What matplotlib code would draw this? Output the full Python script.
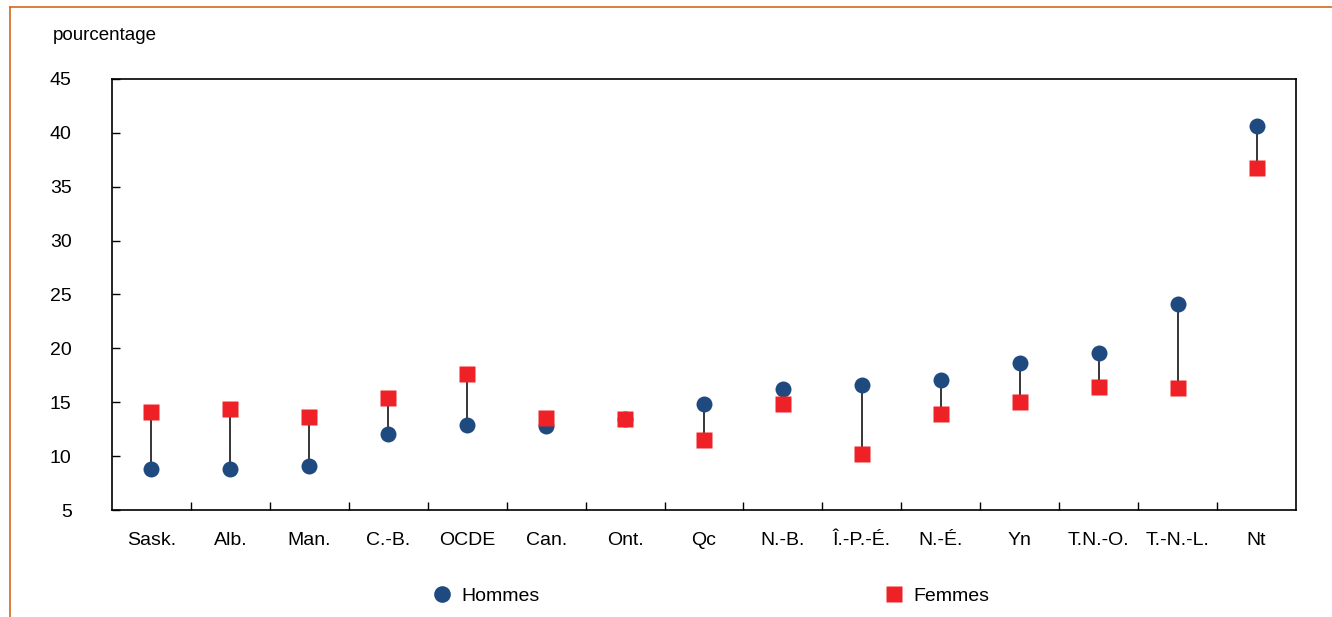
import matplotlib.pyplot as plt
from matplotlib.lines import Line2D
import numpy as np

plt.rcParams['font.family'] = ['Liberation Sans Narrow', 'Liberation Sans', 'DejaVu Sans']

regions = ["Sask.", "Alb.", "Man.", "C.-B.", "OCDE", "Can.", "Ont.", "Qc",
           "N.-B.", "Î.-P.-É.", "N.-É.", "Yn", "T.N.-O.", "T.-N.-L.", "Nt"]
hommes = [8.8, 8.8, 9.1, 12.1, 12.9, 12.8, 13.4, 14.8, 16.2, 16.6, 17.1, 18.6, 19.6, 24.1, 40.6]
femmes = [14.1, 14.4, 13.6, 15.4, 17.6, 13.5, 13.4, 11.5, 14.8, 10.2, 13.9, 15.0, 16.4, 16.3, 36.7]

navy = "#1f4a80"
red = "#ee2226"

fig = plt.figure(figsize=(13.32, 6.17), dpi=100)
ax = fig.add_axes([0.0841, 0.1734, 0.8889, 0.6986])

x = np.arange(len(regions))
ax.vlines(x, hommes, femmes, color="black", lw=1.1, zorder=1)
ax.plot(x, hommes, "o", ms=11.5, color=navy, mec="none", zorder=2, label="Hommes")
ax.plot(x, femmes, "s", ms=11, color=red, mec="none", zorder=3, label="Femmes")

ax.set_xlim(-0.5, len(regions) - 0.5)
ax.set_ylim(5, 45)
ax.set_yticks(range(5, 46, 5))
ax.set_xticks(x)
ax.set_xticklabels(regions)
ax.set_xticks(np.arange(0.5, len(regions) - 1, 1), minor=True)
ax.tick_params(axis="x", which="major", length=0, pad=16, labelsize=14)
ax.tick_params(axis="x", which="minor", direction="in", length=6, width=1)
ax.tick_params(axis="y", direction="in", length=6, width=1, pad=29, labelsize=14)
for s in ax.spines.values():
    s.set_linewidth(1.2)

fig.text(53 / 1332, 1 - 36 / 617, "pourcentage", fontsize=13.5, va="center", ha="left")

fig.legend(handles=[Line2D([], [], marker="o", ls="", ms=12, color=navy, mec="none"),
                    Line2D([], [], marker="s", ls="", ms=11, color=red, mec="none")],
           labels=["Hommes", "Femmes"], ncol=2, frameon=False, fontsize=14,
           loc="center", bbox_to_anchor=(711 / 1332, 1 - 596 / 617),
           handlelength=1, columnspacing=17.7, handletextpad=0.5)

# orange frame
orange = "#d2691e"
fig.add_artist(Line2D([10 / 1332, 1], [1 - 7 / 617, 1 - 7 / 617], color=orange, lw=1.2))
fig.add_artist(Line2D([10 / 1332, 10 / 1332], [0, 1 - 7 / 617], color=orange, lw=1.2))

fig.savefig("out.png", dpi=100)
